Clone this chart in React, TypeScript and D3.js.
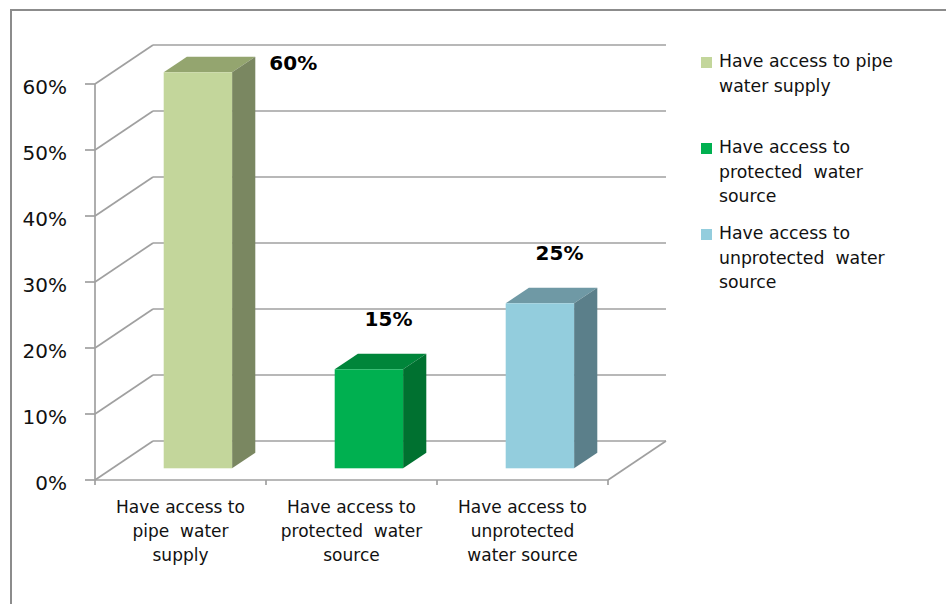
import React from "react";
import * as d3 from "d3";

// Water access survey: share of households by source
const categories = [
  "Have access to pipe water supply",
  "Have access to protected water source",
  "Have access to unprotected water source",
];
const values = [0.6, 0.15, 0.25];
const axisLines = [
  ["Have access to", "pipe  water", "supply"],
  ["Have access to", "protected  water", "source"],
  ["Have access to", "unprotected", "water source"],
];
const legendLines = [
  ["Have access to pipe", "water supply"],
  ["Have access to", "protected  water", "source"],
  ["Have access to", "unprotected  water", "source"],
];
const yTicks = [0, 0.1, 0.2, 0.3, 0.4, 0.5, 0.6];

const faceColors = ["#C3D69B", "#00B050", "#93CDDD"];
const topColors = ["#94A56F", "#00853A", "#6F99A5"];
const sideColors = ["#7A8761", "#007130", "#5B7F8A"];

const W = 946;
const H = 604;
const FONT = "'DejaVu Sans', Verdana, sans-serif";
const GRID = "#a0a0a0";

// Plot geometry: front plane and depth offset of the back wall
const front = { left: 95, right: 608, bottom: 480, top: 84 };
const depth = { dx: 58, dy: -39 };
const barDepth = [0.3, 0.7];

export default function App() {
  const y = d3.scaleLinear().domain([0, 0.6]).range([front.bottom, front.top]);
  const x = d3
    .scaleBand<string>()
    .domain(categories)
    .range([front.left, front.right])
    .padding(0);
  const bw = x.bandwidth() * 0.4;
  const fmt = d3.format(".0%");

  const off = (f: number) => [depth.dx * f, depth.dy * f];
  const [f0x, f0y] = off(barDepth[0]);
  const [f1x, f1y] = off(barDepth[1]);
  const ddx = f1x - f0x;
  const ddy = f1y - f0y;
  const backTop = y(0.6) + depth.dy;

  const pts = (p: number[][]) => p.map((q) => q.join(",")).join(" ");

  return (
    <svg
      width={W}
      height={H}
      style={{ position: "fixed", left: 0, top: 0, background: "#fff" }}
    >
      {/* outer frame */}
      <rect x={11} y={10} width={1200} height={1000} fill="#fff" stroke="#8c8c8c" strokeWidth={2} />

      {/* back wall gridlines and side wall diagonals */}
      {yTicks.map((t) => (
        <g key={t} stroke={GRID} strokeWidth={1.7} fill="none">
          <line x1={front.left + depth.dx} x2={front.right + depth.dx} y1={y(t) + depth.dy} y2={y(t) + depth.dy} />
          <line x1={front.left} y1={y(t)} x2={front.left + depth.dx} y2={y(t) + depth.dy} />
          <line x1={front.left - 10} x2={front.left} y1={y(t)} y2={y(t)} />
        </g>
      ))}

      {/* floor */}
      <g stroke={GRID} strokeWidth={1.7} fill="none">
        <line x1={front.left} x2={front.right} y1={y(0)} y2={y(0)} />
        <line x1={front.right} y1={y(0)} x2={front.right + depth.dx} y2={y(0) + depth.dy} />
        <line x1={front.left} x2={front.left} y1={y(0.6)} y2={y(0)} />
        {[...categories.map((c) => x(c) as number), front.right].map((px, i) => (
          <line key={i} x1={px} x2={px} y1={y(0)} y2={y(0) + 5} />
        ))}
      </g>

      {/* bars */}
      {categories.map((c, i) => {
        const cx = (x(c) as number) + x.bandwidth() / 2;
        const l = cx - bw / 2 + f0x;
        const r = l + bw;
        const b = y(0) + f0y;
        const t = y(values[i]) + f0y;
        return (
          <g key={c}>
            <polygon
              points={pts([[l, t], [r, t], [r + ddx, t + ddy], [l + ddx, t + ddy]])}
              fill={topColors[i]}
            />
            <polygon
              points={pts([[r, t], [r + ddx, t + ddy], [r + ddx, b + ddy], [r, b]])}
              fill={sideColors[i]}
            />
            <rect x={l} y={t} width={bw} height={b - t} fill={faceColors[i]} />
          </g>
        );
      })}

      {/* value labels */}
      {categories.map((c, i) => {
        const cx = (x(c) as number) + x.bandwidth() / 2;
        const l = cx - bw / 2 + f0x;
        const topBack = y(values[i]) + f0y + ddy;
        const fits = topBack - 28 - 14 > backTop - 20;
        const lx = fits ? l + (bw + ddx) / 2 + 8 : l + bw + ddx + 14;
        const ly = fits ? topBack - 28 : topBack + 13;
        return (
          <text
            key={c}
            x={lx}
            y={ly}
            textAnchor={fits ? "middle" : "start"}
            fontFamily={FONT}
            fontWeight="bold"
            fontSize={20}
            fill="#000"
          >
            {fmt(values[i])}
          </text>
        );
      })}

      {/* y axis labels */}
      {yTicks.map((t) => (
        <text
          key={t}
          x={67}
          y={y(t) + 10}
          textAnchor="end"
          fontFamily={FONT}
          fontSize={20}
          fill="#111"
        >
          {fmt(t)}
        </text>
      ))}

      {/* category labels */}
      {categories.map((c, i) => {
        const cx = (x(c) as number) + x.bandwidth() / 2;
        return (
          <text
            key={c}
            textAnchor="middle"
            fontFamily={FONT}
            fontSize={17}
            fill="#111"
            style={{ whiteSpace: "pre" }}
          >
            {axisLines[i].map((ln, k) => (
              <tspan key={k} x={cx} y={513 + k * 24}>
                {ln}
              </tspan>
            ))}
          </text>
        );
      })}

      {/* legend */}
      {legendLines.map((lines, i) => {
        const top = [57, 143, 229][i];
        return (
          <g key={i}>
            <rect x={701} y={top} width={11} height={11} fill={faceColors[i]} />
            <text
              fontFamily={FONT}
              fontSize={17.3}
              fill="#111"
              style={{ whiteSpace: "pre" }}
            >
              {lines.map((ln, k) => (
                <tspan key={k} x={719} y={top + 10 + k * 24.5}>
                  {ln}
                </tspan>
              ))}
            </text>
          </g>
        );
      })}
    </svg>
  );
}
